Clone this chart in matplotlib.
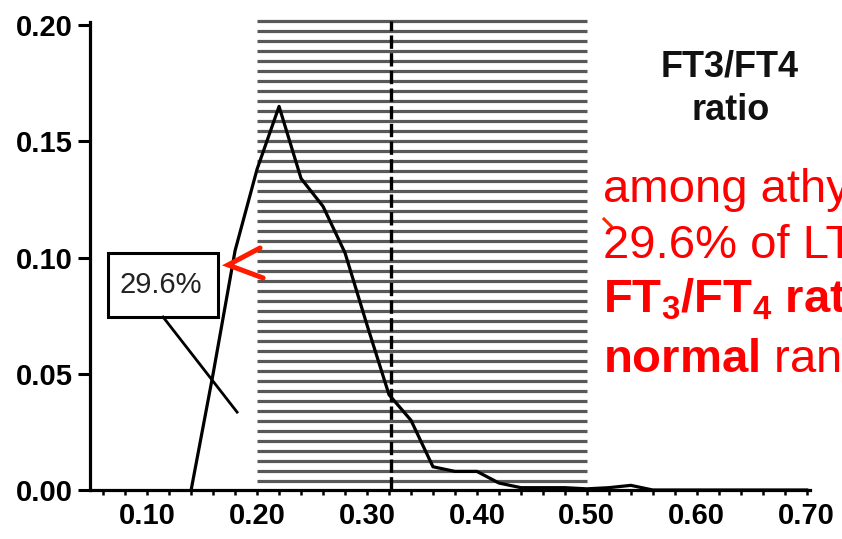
import numpy as np
import matplotlib
matplotlib.use("Agg")
import matplotlib.pyplot as plt
from matplotlib.patches import Rectangle
from matplotlib.lines import Line2D
from matplotlib.ticker import MultipleLocator, FormatStrFormatter

plt.rcParams["font.family"] = ["Liberation Sans", "DejaVu Sans"]
plt.rcParams["mathtext.fontset"] = "custom"
plt.rcParams["mathtext.rm"] = "Liberation Sans"
plt.rcParams["mathtext.bf"] = "Liberation Sans:bold"
plt.rcParams["mathtext.it"] = "Liberation Sans:italic"

# FT3/FT4 ratio distribution (relative frequency)
ratio = [0.14, 0.16, 0.18, 0.20, 0.22, 0.24, 0.26, 0.28, 0.30, 0.32,
         0.34, 0.36, 0.38, 0.40, 0.42, 0.44, 0.46, 0.48, 0.50, 0.52,
         0.54, 0.56, 0.58, 0.60, 0.62, 0.64, 0.66, 0.68, 0.70]
freq = [0.000, 0.050, 0.103, 0.138, 0.165, 0.134, 0.122, 0.102, 0.071, 0.041,
        0.030, 0.010, 0.008, 0.008, 0.003, 0.001, 0.001, 0.001, 0.0005, 0.001,
        0.002, 0.000, 0.000, 0.000, 0.000, 0.000, 0.000, 0.000, 0.000]

normal_range = (0.20, 0.50)
median_ratio = 0.322
below_label = "29.6%"

x_ticks = [0.10, 0.20, 0.30, 0.40, 0.50, 0.60, 0.70]
y_ticks = [0.00, 0.05, 0.10, 0.15, 0.20]

title_lines = ["FT3/FT4", "ratio"]
note_lines = ["among athyreotic patients,",
              "29.6% of LT4-treated",
              r"$\mathbf{FT_3/FT_4}$ ratio below the",
              r"$\mathbf{normal}$ range"]

W, H = 842, 539
fig = plt.figure(figsize=(W / 100, H / 100), dpi=100)
ax = fig.add_axes([90 / W, 49 / H, 720 / W, 468 / H])
ax.set_xlim(0.048, 0.703)
ax.set_ylim(0, 0.2013)

# normal range drawn as horizontal hatching
band_top = 0.2017
band_lines = np.arange(band_top, 0.0, -0.0043)
ax.hlines(band_lines, normal_range[0], normal_range[1], colors="#585858",
          linewidth=2.3, clip_on=False, zorder=1)

# median marker
ax.vlines(median_ratio, 0, band_top, colors="black", linewidth=2.4,
          linestyles=(0, (4, 1.3)), clip_on=False, zorder=2)

# distribution curve
ax.plot(ratio, freq, color="black", linewidth=2.3, zorder=3, clip_on=False,
        solid_joinstyle="round")

# labelled box with leader line
ax.add_patch(Rectangle((0.0645, 0.0744), 0.100, 0.0275, fill=True,
                       facecolor="white", edgecolor="black", linewidth=2.2,
                       zorder=4))
ax.text(0.1127, 0.0880, below_label, ha="center", va="center", fontsize=21,
        color="#222222", zorder=5)
ax.plot([0.1145, 0.1818], [0.0744, 0.0335], color="black", linewidth=2.0,
        zorder=4)

# red pointer
ax.plot([0.2027, 0.1736, 0.2055], [0.1041, 0.0968, 0.0912], color="#ff1a00",
        linewidth=3.6, solid_capstyle="round", solid_joinstyle="miter",
        zorder=6)

# axes styling
for side in ("top", "right"):
    ax.spines[side].set_visible(False)
for side in ("left", "bottom"):
    ax.spines[side].set_linewidth(2.3)

ax.set_xticks(x_ticks)
ax.xaxis.set_minor_locator(MultipleLocator(0.02))
ax.set_yticks(y_ticks)
ax.xaxis.set_major_formatter(FormatStrFormatter("%.2f"))
ax.yaxis.set_major_formatter(FormatStrFormatter("%.2f"))
ax.tick_params(axis="y", which="major", direction="out", length=8.5, width=2.2,
               pad=4, labelsize=21)
ax.tick_params(axis="x", which="both", direction="out", length=3.5, width=1.8,
               pad=5.5, labelsize=21)
for lab in ax.get_xticklabels() + ax.get_yticklabels():
    lab.set_fontweight("bold")

# panel title
fig.text(730 / W, 1 - 77 / H, title_lines[0], ha="center", va="baseline",
         fontsize=26, fontweight="bold", color="#111111")
fig.text(731 / W, 1 - 120 / H, title_lines[1], ha="center", va="baseline",
         fontsize=26, fontweight="bold", color="#111111")

# red explanatory note
baselines = [202, 258, 313, 372]
weights = ["normal", "normal", "bold", "normal"]
for line, yb, wt in zip(note_lines, baselines, weights):
    fig.text(603 / W, 1 - yb / H, line, ha="left", va="baseline",
             fontsize=34, fontweight=wt, color="#ff0000")

# small red tick at the start of the second note line
fig.add_artist(Line2D([604 / W, 611 / W], [1 - 219 / H, 1 - 226 / H],
                      color="#ff2a00", linewidth=2.2,
                      transform=fig.transFigure))

fig.savefig("out.png", dpi=100)
